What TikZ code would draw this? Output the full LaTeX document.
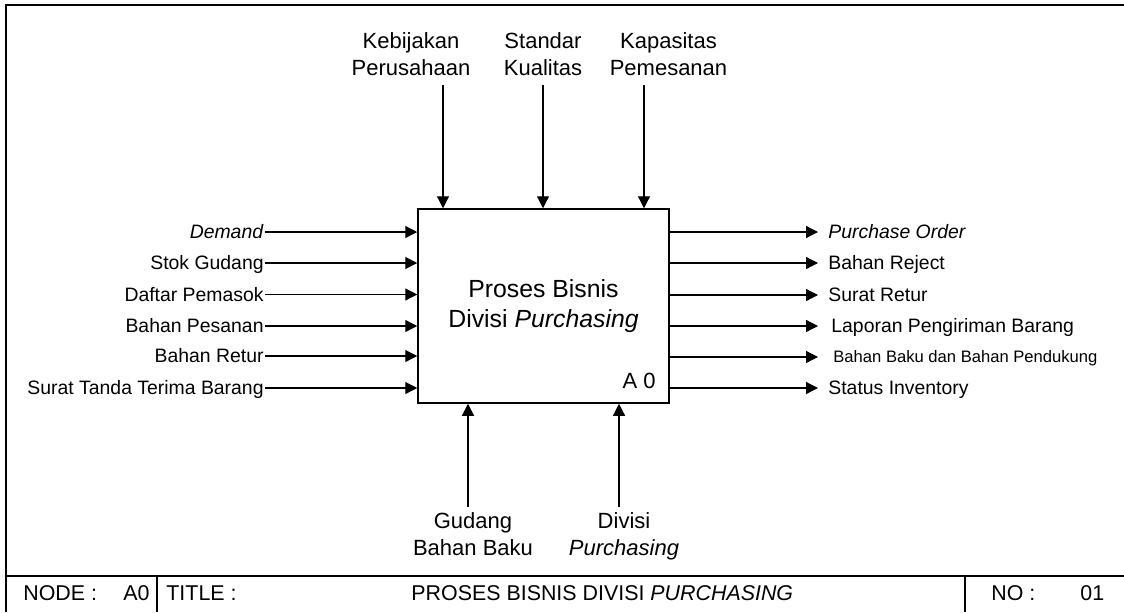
\documentclass[tikz,border=0pt]{standalone}
\usepackage{fontspec}
\setmainfont{Liberation Sans}
\usetikzlibrary{arrows.meta}
\begin{document}
\begin{tikzpicture}[x=0.5pt,y=-0.5pt,
  arr/.style={draw, line width=0.6pt, -{Triangle[length=6pt,width=6pt]}},
  framel/.style={line width=1pt},
  llab/.style={anchor=east, inner xsep=0.5pt, inner ysep=0pt, font=\fontsize{9.7}{11}\selectfont, text height=6.95pt, text depth=0pt},
  rlab/.style={anchor=west, inner xsep=5pt, inner ysep=0pt, font=\fontsize{9.7}{11}\selectfont, text height=6.95pt, text depth=0pt},
  slab/.style={rlab, inner xsep=7.5pt, font=\fontsize{8.3}{10}\selectfont, text height=5.95pt},
  clab/.style={anchor=north, inner sep=0pt, align=center, font=\fontsize{11}{13.5}\selectfont},
  tlab/.style={anchor=base west, inner sep=0pt, font=\fontsize{10.7}{12}\selectfont},
]
\useasboundingbox (0,0) rectangle (1124,612);
% outer frame and title row
\draw[framel] (6,612) -- (6,5) -- (1124,5);
\draw[framel] (6,576) -- (1124,576);
\draw[framel] (157,576) -- (157,612);
\draw[framel] (965,576) -- (965,612);
\node[tlab] (tnode) at (23,600) {NODE :};
\node[tlab] (tnodev) at (123,600) {A0};
\node[tlab] (ttitle) at (166,600) {TITLE :};
\node[tlab] (ttitlev) at (411,600) {PROSES BISNIS DIVISI \textit{PURCHASING}};
\node[tlab] (tno) at (991,600) {NO :};
\node[tlab] (tnov) at (1080,600) {01};
% main box
\node[draw, line width=0.75pt, minimum width=125.5pt, minimum height=97pt, inner sep=0pt,
      align=center, font=\fontsize{12.4}{15}\selectfont] (box) at (543.5,306)
      {Proses Bisnis\\Divisi \textit{Purchasing}};
\node[anchor=base east, inner sep=0pt, font=\fontsize{11}{13}\selectfont] (a0) at (656,388) {A 0};
% controls
\node[clab] (k1) at (411,32) {Kebijakan\\Perusahaan};
\node[clab] (k2) at (543,32) {Standar\\Kualitas};
\node[clab] (k3) at (668.5,32) {Kapasitas\\Pemesanan};
\coordinate (c1) at (443,85);
\coordinate (c2) at (543,85);
\coordinate (c3) at (644,85);
\draw[arr] (c1) -- (c1 |- box.north);
\draw[arr] (c2) -- (c2 |- box.north);
\draw[arr] (c3) -- (c3 |- box.north);
% mechanisms
\node[clab] (m1) at (473,512) {Gudang\\Bahan Baku};
\node[clab] (m2) at (624,512) {Divisi\\\textit{Purchasing}};
\coordinate (d1) at (468,507);
\coordinate (d2) at (619,507);
\draw[arr] (d1) -- (d1 |- box.south);
\draw[arr] (d2) -- (d2 |- box.south);
% inputs
\node[llab] (i1) at (265,232) {\textit{Demand}};
\node[llab] (i2) at (265,263) {Stok Gudang};
\node[llab] (i3) at (265,294.5) {Daftar Pemasok};
\node[llab] (i4) at (265,326) {Bahan Pesanan};
\node[llab] (i5) at (265,356) {Bahan Retur};
\node[llab] (i6) at (265,388) {Surat Tanda Terima Barang};
\foreach \n in {i1,i2,i3,i4,i5,i6}{\draw[arr] (\n.east) -- (\n.east -| box.west);}
% outputs
\node[rlab] (o1) at (818,232) {\textit{Purchase Order}};
\node[rlab] (o2) at (818,263) {Bahan Reject};
\node[rlab] (o3) at (818,295) {Surat Retur};
\node[rlab, inner xsep=6.5pt] (o4) at (818,326) {Laporan Pengiriman Barang};
\node[slab] (o5) at (818,357) {Bahan Baku dan Bahan Pendukung};
\node[rlab] (o6) at (818,388) {Status Inventory};
\foreach \n in {o1,o2,o3,o4,o5,o6}{\draw[arr] (\n.west -| box.east) -- (\n.west);}
\end{tikzpicture}
\end{document}
